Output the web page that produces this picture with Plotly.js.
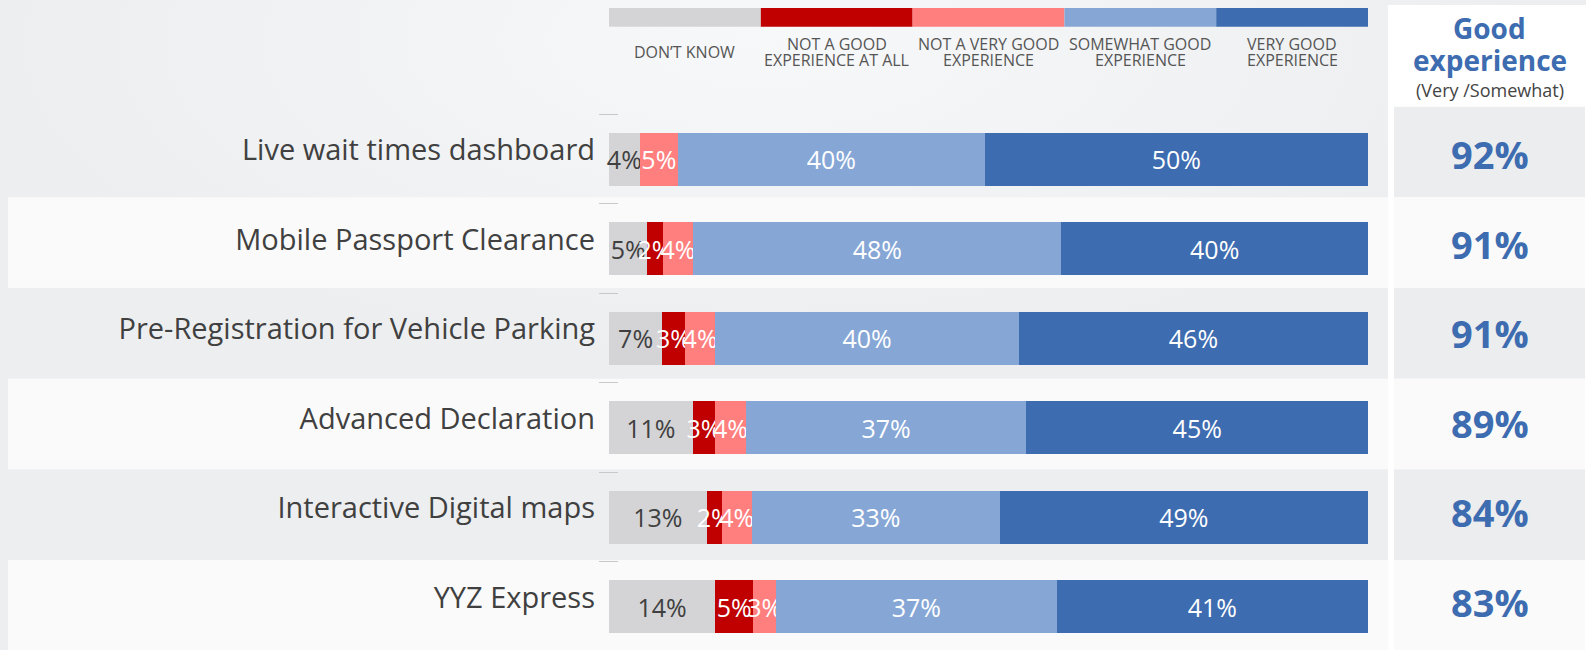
<!DOCTYPE html>
<html><head><meta charset="utf-8">
<script src="https://cdn.plot.ly/plotly-3.0.1.min.js"></script>
<style>
html,body{margin:0;padding:0;width:1586px;height:650px;overflow:hidden;
background: radial-gradient(ellipse 760px 320px at 760px 40px, #f7f8f9 0%, #eceef0 100%);}
#chart{width:1586px;height:650px;}
</style></head><body><div id="chart"></div>
<script>
// ---- data ----
const categories = ['Live wait times dashboard','Mobile Passport Clearance','Pre-Registration for Vehicle Parking','Advanced Declaration','Interactive Digital maps','YYZ Express'];
const seriesNames = ['DON’T KNOW','NOT A GOOD<br>EXPERIENCE AT ALL','NOT A VERY GOOD<br>EXPERIENCE','SOMEWHAT GOOD<br>EXPERIENCE','VERY GOOD<br>EXPERIENCE'];
const dontKnow     = [4, 5, 7, 11, 13, 14];
const notGoodAtAll = [0, 2, 3, 3, 2, 5];
const notVeryGood  = [5, 4, 4, 4, 4, 3];
const somewhatGood = [40, 48, 40, 37, 33, 37];
const veryGood     = [50, 40, 46, 45, 49, 41];
const goodExperience = [92, 91, 91, 89, 84, 83];
const headerTitle = ['Good', 'experience'];
const headerSub = '(Very /Somewhat)';

// ---- styling ----
const colors = ['#d4d4d6', '#c00000', '#ff7f7f', '#86a7d6', '#3d6cb0'];
const textColors = ['#404040', '#ffffff', '#ffffff', '#ffffff', '#ffffff'];
const blue = '#3d6cb0';
const W = 1586, H = 650, L = 599, R = 218, T = 101, B = 0;
const plotW = W - L - R, plotH = H - T - B;
const px2x = px => (px - L) / plotW;
const py2y = py => (H - B - py) / plotH;

const series = [dontKnow, notGoodAtAll, notVeryGood, somewhatGood, veryGood];
const traces = series.map((vals, j) => ({
  type: 'bar', orientation: 'h',
  x: vals, y: categories, name: seriesNames[j],
  text: vals.map(v => v ? v + '%' : ''),
  textposition: 'inside', insidetextanchor: 'middle', textangle: 0,
  insidetextfont: {family: 'Open Sans', size: 25, color: textColors[j]},
  marker: {color: colors[j], line: {width: 0}},
  hoverinfo: 'skip', showlegend: false, cliponaxis: false
}));

const shapes = [];
// right white panel
shapes.push({type: 'rect', xref: 'paper', yref: 'paper', x0: px2x(1388), x1: px2x(1590), y0: py2y(655), y1: py2y(5),
  fillcolor: '#ffffff', line: {width: 0}, layer: 'below'});
// row bands
const n = categories.length;
for (let i = 0; i < n; i++) {
  const top = i - 0.587 + 0.0135 * i;
  const bot = (i === n - 1) ? i + 1.2 : top + 1.0135;
  const light = (i % 2 === 1);
  if (light) {
    shapes.push({type: 'rect', xref: 'paper', yref: 'y', x0: px2x(8), x1: px2x(1388), y0: top, y1: bot,
      fillcolor: '#fafafa', line: {width: 0}, layer: 'below'});
  }
  shapes.push({type: 'rect', xref: 'paper', yref: 'y', x0: px2x(1394), x1: px2x(1585), y0: top, y1: bot,
    fillcolor: light ? '#fafafa' : '#ecedef', line: {width: 0}, layer: 'below'});
}
// legend color strip
for (let j = 0; j < 5; j++) {
  shapes.push({type: 'rect', xref: 'x', yref: 'paper', x0: 20 * j, x1: 20 * j + 20, y0: py2y(26.7), y1: py2y(8),
    fillcolor: colors[j], line: {width: 0}});
}

const annotations = [];
// legend labels
seriesNames.forEach((s, j) => {
  const lines = s.split('<br>');
  lines.forEach((ln, k) => {
    const py = 52 + (k - (lines.length - 1) / 2) * 16;
    annotations.push({xref: 'x', yref: 'paper', x: 20 * j + 10, y: py2y(py), text: ln, showarrow: false,
      xanchor: 'center', yanchor: 'middle', font: {family: 'Open Sans', size: 16, color: '#555555'}});
  });
});
// header
const cx = px2x(1489.5);
annotations.push({xref: 'paper', yref: 'paper', x: cx, y: py2y(28), text: headerTitle[0], showarrow: false,
  xanchor: 'center', yanchor: 'middle', font: {family: 'Open Sans', size: 28, color: blue, weight: 700}});
annotations.push({xref: 'paper', yref: 'paper', x: cx, y: py2y(60), text: headerTitle[1], showarrow: false,
  xanchor: 'center', yanchor: 'middle', font: {family: 'Open Sans', size: 28, color: blue, weight: 700}});
annotations.push({xref: 'paper', yref: 'paper', x: cx, y: py2y(90), text: headerSub, showarrow: false,
  xanchor: 'center', yanchor: 'middle', font: {family: 'Open Sans', size: 18, color: '#444444'}});
// right-hand percentages
goodExperience.forEach((v, i) => {
  annotations.push({xref: 'paper', yref: 'y', x: cx, y: categories[i], yshift: 5, text: v + '%', showarrow: false,
    xanchor: 'center', yanchor: 'middle', font: {family: 'Open Sans', size: 38, color: blue, weight: 700}});
});

const layout = {
  width: W, height: H,
  margin: {l: L, r: R, t: T, b: B, pad: 0},
  paper_bgcolor: 'rgba(0,0,0,0)', plot_bgcolor: 'rgba(0,0,0,0)',
  barmode: 'stack', barnorm: 'percent', bargap: 0.4076,
  uniformtext: {mode: 'show', minsize: 25},
  xaxis: {range: [-1.32, 100], showgrid: false, zeroline: false, showticklabels: false, ticks: '', showline: false, fixedrange: true},
  yaxis: {type: 'category', categoryorder: 'array', categoryarray: categories,
    range: [5.486, -0.6506], showgrid: false, zeroline: false, showline: false,
    ticks: 'inside', tickson: 'boundaries', ticklen: 19, tickcolor: '#c8c8c8', tickwidth: 1,
    ticklabelstandoff: 3, ticklabelshift: 9,
    tickfont: {family: 'Open Sans', size: 29, color: '#404040'}, fixedrange: true},
  shapes: shapes, annotations: annotations,
  font: {family: 'Open Sans'}
};
Plotly.newPlot('chart', traces, layout, {displayModeBar: false, staticPlot: true});
</script></body></html>
